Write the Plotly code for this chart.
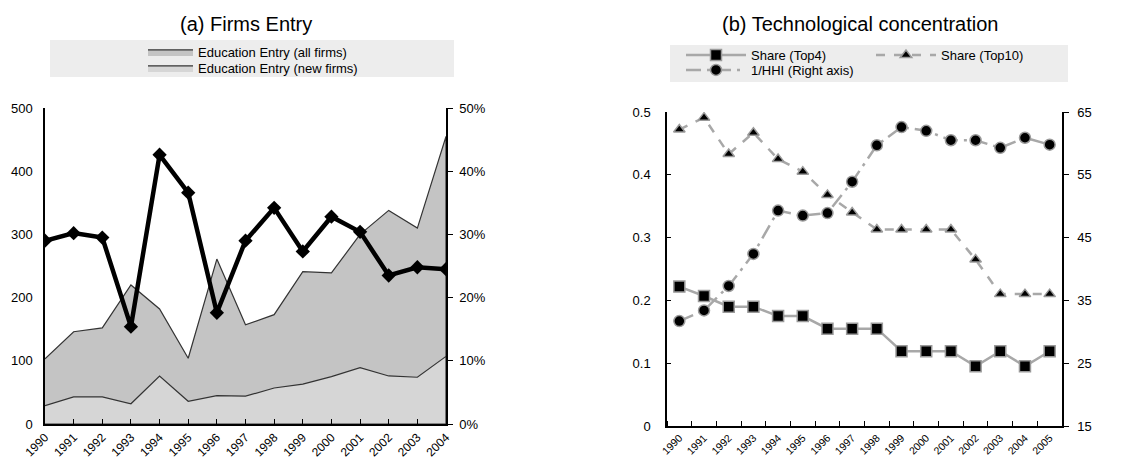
import plotly.graph_objects as go

# ---- data: panel (a) firms entry ----
years_a = list(range(1990, 2005))
entry_all = [103, 146, 152, 220, 182, 104, 261, 157, 173, 241, 239, 300, 338, 310, 455]
entry_new = [29, 43, 43, 32, 76, 36, 45, 44, 57, 63, 75, 89, 76, 74, 107]
entry_share = [29.0, 30.2, 29.5, 15.4, 42.6, 36.6, 17.6, 29.0, 34.2, 27.3, 32.8, 30.4, 23.5, 24.8, 24.5]

# ---- data: panel (b) technological concentration ----
years_b = list(range(1990, 2006))
share_top4 = [0.222, 0.207, 0.190, 0.190, 0.175, 0.175, 0.155, 0.155, 0.155,
              0.119, 0.119, 0.119, 0.095, 0.119, 0.095, 0.119]
share_top10 = [0.472, 0.491, 0.433, 0.467, 0.425, 0.405, 0.368, 0.340, 0.313,
               0.313, 0.313, 0.313, 0.265, 0.210, 0.210, 0.210]
inv_hhi = [31.7, 33.4, 37.3, 42.4, 49.3, 48.5, 48.9, 53.9, 59.7,
           62.6, 62.0, 60.5, 60.5, 59.3, 60.9, 59.8]

FONT = "Liberation Sans, Arial, sans-serif"
GREY_LINE = "#a8a8a8"

# the page body has an 8px margin, so the figure is shrunk and every
# position below is given in window pixels and shifted
OFF = 8
W, H = 1137 - OFF, 458 - OFF


def px(x):
    return (x - OFF) / W


def py(y):
    return 1 - (y - OFF) / H


def area_poly(xs, ys):
    # closed polygon down to zero so the legend swatch is a full box
    return xs + xs[::-1], ys + [0] * len(ys)


fig = go.Figure()

# panel (a): areas
ax, ay = area_poly(years_a, entry_all)
fig.add_trace(go.Scatter(
    x=ax, y=ay, name="Education Entry (all firms)",
    mode="lines", fill="toself", fillcolor="#c4c4c4",
    line=dict(color="#333333", width=1.2),
    xaxis="x", yaxis="y", legend="legend",
))
nx, ny = area_poly(years_a, entry_new)
fig.add_trace(go.Scatter(
    x=nx, y=ny, name="Education Entry (new firms)",
    mode="lines", fill="toself", fillcolor="#d6d6d6",
    line=dict(color="#333333", width=1.2),
    xaxis="x", yaxis="y", legend="legend2",
))
fig.add_trace(go.Scatter(
    x=years_a, y=entry_share, mode="lines+markers", showlegend=False,
    line=dict(color="black", width=4.5),
    marker=dict(symbol="diamond", size=11, color="black"),
    xaxis="x", yaxis="y2",
))

# panel (b)
mk_line = dict(width=1.5, color="#9a9a9a")
fig.add_trace(go.Scatter(
    x=years_b, y=share_top4, name="Share (Top4)", mode="lines+markers",
    line=dict(color=GREY_LINE, width=2.5),
    marker=dict(symbol="square", size=11, color="black", line=mk_line),
    xaxis="x3", yaxis="y3", legend="legend3",
))
fig.add_trace(go.Scatter(
    x=years_b, y=inv_hhi, name="1/HHI (Right axis)", mode="lines+markers",
    line=dict(color=GREY_LINE, width=2.5, dash="longdashdot"),
    marker=dict(symbol="circle", size=11, color="black", line=mk_line),
    xaxis="x3", yaxis="y4", legend="legend4",
))
fig.add_trace(go.Scatter(
    x=years_b, y=share_top10, name="Share (Top10)", mode="lines+markers",
    line=dict(color=GREY_LINE, width=2.5, dash="dash"),
    marker=dict(symbol="triangle-up", size=10, color="black", line=mk_line),
    xaxis="x3", yaxis="y3", legend="legend5",
))

axis_common = dict(
    showgrid=False, zeroline=False, showline=True, linecolor="black",
    linewidth=1.5, tickcolor="black", tickfont=dict(size=13, color="black"),
    automargin=False,
)


def leg(x, y, size, iw):
    return dict(x=px(x), y=py(y), xanchor="left", yanchor="middle",
                bgcolor="rgba(0,0,0,0)", font=dict(size=size),
                itemwidth=iw, borderwidth=0)


fig.update_layout(
    width=W, height=H,
    margin=dict(l=0, r=0, t=0, b=0),
    paper_bgcolor="white", plot_bgcolor="rgba(0,0,0,0)",
    font=dict(family=FONT, color="black", size=13),
    xaxis=dict(
        **axis_common, domain=[px(45), px(446)], anchor="y",
        range=[1990, 2004], tickmode="array", tickvals=years_a,
        ticktext=[str(y) for y in years_a], tickangle=-45,
        ticks="inside", ticklen=5, tickfont_size=12, ticklabelstandoff=0,
    ),
    yaxis=dict(
        **axis_common, domain=[py(424), py(108)], anchor="x",
        range=[0, 500], tickvals=[0, 100, 200, 300, 400, 500],
        ticks="", ticklabelstandoff=8,
    ),
    yaxis2=dict(
        **axis_common, domain=[py(424), py(108)], anchor="x",
        overlaying="y", side="right", range=[0, 50],
        tickvals=[0, 10, 20, 30, 40, 50],
        ticktext=["0%", "10%", "20%", "30%", "40%", "50%"],
        ticks="outside", ticklen=5, ticklabelstandoff=4,
    ),
    xaxis3=dict(
        **axis_common, domain=[px(667), px(1062)], anchor="y3",
        range=[1989.5, 2005.5], tickmode="array", tickvals=years_b,
        ticktext=[str(y) for y in years_b], tickangle=-45, ticks="",
        tickfont_size=10.5, ticklabelstandoff=0,
        minor=dict(tickmode="linear", tick0=1989.5, dtick=1, ticks="inside",
                   ticklen=5, tickcolor="black"),
    ),
    yaxis3=dict(
        **axis_common, domain=[py(426), py(112)], anchor="x3",
        range=[0, 0.5], tickvals=[0, 0.1, 0.2, 0.3, 0.4, 0.5],
        ticktext=["0", "0.1", "0.2", "0.3", "0.4", "0.5"],
        ticks="inside", ticklen=4, ticklabelstandoff=12,
    ),
    yaxis4=dict(
        **axis_common, domain=[py(426), py(112)], anchor="x3",
        overlaying="y3", side="right", range=[15, 65],
        tickvals=[15, 25, 35, 45, 55, 65],
        ticks="outside", ticklen=5, ticklabelstandoff=6,
    ),
    legend=leg(143, 52, 13, 45),
    legend2=leg(143, 68, 13, 45),
    legend3=leg(681, 55, 13, 60),
    legend4=leg(681, 70, 13, 60),
    legend5=leg(871, 55, 13, 60),
    showlegend=True,
    annotations=[
        dict(text="(a) Firms Entry", x=px(246), y=py(24), xref="paper",
             yref="paper", showarrow=False, font=dict(size=20),
             xanchor="center", yanchor="middle"),
        dict(text="(b) Technological concentration", x=px(860), y=py(24),
             xref="paper", yref="paper", showarrow=False, font=dict(size=20),
             xanchor="center", yanchor="middle"),
    ],
    shapes=[
        dict(type="rect", xref="paper", yref="paper", layer="below",
             x0=px(50), x1=px(454), y0=py(77), y1=py(40),
             fillcolor="#ededed", line=dict(width=0)),
        dict(type="rect", xref="paper", yref="paper", layer="below",
             x0=px(670), x1=px(1068), y0=py(82), y1=py(45),
             fillcolor="#ededed", line=dict(width=0)),
    ],
)

fig.write_html("out.html")
